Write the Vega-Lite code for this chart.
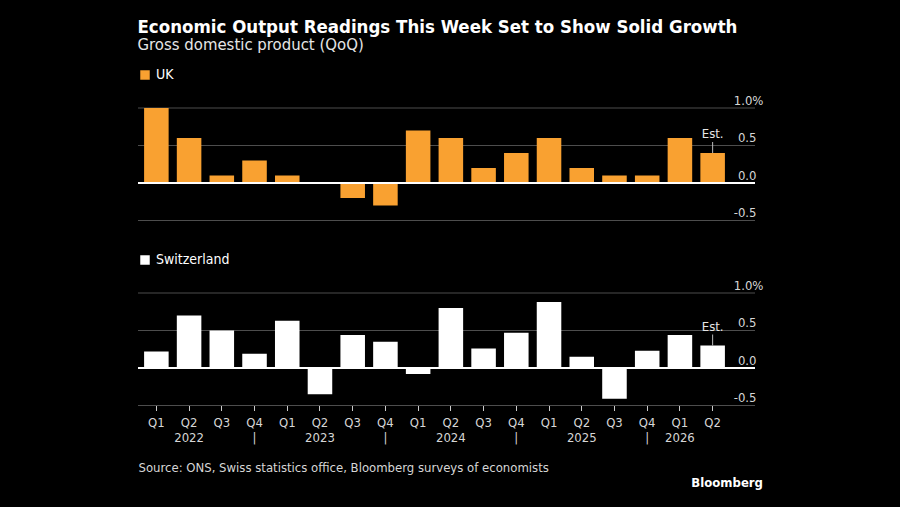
{
  "$schema": "https://vega.github.io/schema/vega-lite/v6.json",
  "background": "#000000",
  "padding": {"left": 137, "top": 17, "right": 138, "bottom": 24},
  "title": {
    "text": "Economic Output Readings This Week Set to Show Solid Growth",
    "subtitle": "Gross domestic product (QoQ)",
    "anchor": "start",
    "font": "DejaVu Sans Condensed",
    "fontSize": 18.5,
    "fontWeight": "bold",
    "color": "#ffffff",
    "subtitleFont": "DejaVu Sans Condensed",
    "subtitleFontSize": 16.6,
    "subtitleColor": "#e6e6e6",
    "subtitlePadding": 1,
    "offset": 14
  },
  "datasets": {
    "gdp": [
      {"country": "UK", "quarter": "2022Q1", "value": 1.0},
      {"country": "UK", "quarter": "2022Q2", "value": 0.6},
      {"country": "UK", "quarter": "2022Q3", "value": 0.1},
      {"country": "UK", "quarter": "2022Q4", "value": 0.3},
      {"country": "UK", "quarter": "2023Q1", "value": 0.1},
      {"country": "UK", "quarter": "2023Q2", "value": 0.0},
      {"country": "UK", "quarter": "2023Q3", "value": -0.2},
      {"country": "UK", "quarter": "2023Q4", "value": -0.3},
      {"country": "UK", "quarter": "2024Q1", "value": 0.7},
      {"country": "UK", "quarter": "2024Q2", "value": 0.6},
      {"country": "UK", "quarter": "2024Q3", "value": 0.2},
      {"country": "UK", "quarter": "2024Q4", "value": 0.4},
      {"country": "UK", "quarter": "2025Q1", "value": 0.6},
      {"country": "UK", "quarter": "2025Q2", "value": 0.2},
      {"country": "UK", "quarter": "2025Q3", "value": 0.1},
      {"country": "UK", "quarter": "2025Q4", "value": 0.1},
      {"country": "UK", "quarter": "2026Q1", "value": 0.6},
      {"country": "UK", "quarter": "2026Q2", "value": 0.4},
      {"country": "Switzerland", "quarter": "2022Q1", "value": 0.22},
      {"country": "Switzerland", "quarter": "2022Q2", "value": 0.7},
      {"country": "Switzerland", "quarter": "2022Q3", "value": 0.5},
      {"country": "Switzerland", "quarter": "2022Q4", "value": 0.19},
      {"country": "Switzerland", "quarter": "2023Q1", "value": 0.63},
      {"country": "Switzerland", "quarter": "2023Q2", "value": -0.35},
      {"country": "Switzerland", "quarter": "2023Q3", "value": 0.44},
      {"country": "Switzerland", "quarter": "2023Q4", "value": 0.35},
      {"country": "Switzerland", "quarter": "2024Q1", "value": -0.08},
      {"country": "Switzerland", "quarter": "2024Q2", "value": 0.8},
      {"country": "Switzerland", "quarter": "2024Q3", "value": 0.26},
      {"country": "Switzerland", "quarter": "2024Q4", "value": 0.47},
      {"country": "Switzerland", "quarter": "2025Q1", "value": 0.88},
      {"country": "Switzerland", "quarter": "2025Q2", "value": 0.15},
      {"country": "Switzerland", "quarter": "2025Q3", "value": -0.41},
      {"country": "Switzerland", "quarter": "2025Q4", "value": 0.23},
      {"country": "Switzerland", "quarter": "2026Q1", "value": 0.44},
      {"country": "Switzerland", "quarter": "2026Q2", "value": 0.3}
    ],
    "grid": [
      {"tick": -0.5},
      {"tick": 0.5},
      {"tick": 1.0}
    ]
  },
  "spacing": 32,
  "vconcat": [
    {
      "width": 617,
      "height": 112.5,
      "data": {"name": "gdp"},
      "transform": [{"filter": "datum.country === 'UK'"}],
      "layer": [
        {
          "data": {"name": "grid"},
          "transform": [],
          "mark": {"type": "rule", "color": "#4d4d4d", "strokeWidth": 1},
          "encoding": {"y": {"field": "tick", "type": "quantitative"}}
        },
        {
          "mark": {"type": "bar"},
          "encoding": {
            "x": {
              "field": "quarter",
              "type": "ordinal",
              "axis": null,
              "scale": {"range": [2, 591], "paddingInner": 0.25, "paddingOuter": 0.125}
            },
            "y": {
              "field": "value",
              "type": "quantitative",
              "scale": {"domain": [-0.5, 1.0], "nice": false, "zero": false},
              "axis": {
                "orient": "right",
                "title": null,
                "values": [-0.5, 0, 0.5, 1],
                "tickCount": 10,
                "labelExpr": "datum.value === 1 ? '1.0%' : replace(format(datum.value, '.1f'), '\u2212', '-')",
                "labelOverlap": false,
                "grid": false,
                "domain": false,
                "ticks": false,
                "tickSize": 0,
                "labelAlign": "right",
                "labelBaseline": "alphabetic",
                "labelOffset": -4,
                "labelPadding": {"condition": {"test": "datum.value === 1", "value": 8}, "value": 1},
                "labelColor": "#d6d6d6",
                "labelFontSize": 13
              }
            },
            "color": {
              "field": "country",
              "type": "nominal",
              "scale": {"domain": ["UK"], "range": ["#f9a131"]},
              "legend": {"title": null, "orient": "top", "offset": 26}
            }
          }
        },
        {
          "mark": {"type": "rule", "color": "#ffffff", "strokeWidth": 1},
          "encoding": {"y": {"datum": 0}}
        },
        {
          "transform": [{"filter": "datum.quarter === '2026Q2'"}],
          "mark": {"type": "rule", "color": "#bbbbbb", "strokeWidth": 1, "y2Offset": -11},
          "encoding": {
            "x": {"field": "quarter", "type": "ordinal"},
            "y": {"field": "value", "type": "quantitative"},
            "y2": {"field": "value"}
          }
        },
        {
          "transform": [{"filter": "datum.quarter === '2026Q2'"}],
          "mark": {"type": "text", "text": "Est.", "dy": -15, "baseline": "alphabetic", "color": "#e6e6e6", "fontSize": 13},
          "encoding": {
            "x": {"field": "quarter", "type": "ordinal"},
            "y": {"field": "value", "type": "quantitative"}
          }
        }
      ]
    },
    {
      "width": 617,
      "height": 112.5,
      "data": {"name": "gdp"},
      "transform": [{"filter": "datum.country === 'Switzerland'"}],
      "title": {
        "text": "Bloomberg",
        "orient": "bottom",
        "anchor": "end",
        "fontSize": 13,
        "fontWeight": "bold",
        "color": "#ffffff",
        "offset": 2
      },
      "layer": [
        {
          "data": {"name": "grid"},
          "transform": [],
          "mark": {"type": "rule", "color": "#4d4d4d", "strokeWidth": 1},
          "encoding": {"y": {"field": "tick", "type": "quantitative"}}
        },
        {
          "mark": {"type": "bar"},
          "encoding": {
            "x": {
              "field": "quarter",
              "type": "ordinal",
              "scale": {"range": [2, 591], "paddingInner": 0.25, "paddingOuter": 0.125},
              "axis": {
                "labelExpr": "substring(datum.value, 4) === 'Q2' && datum.value !== '2026Q2' ? ['Q2', substring(datum.value, 0, 4)] : datum.value === '2026Q1' ? ['Q1', '2026'] : substring(datum.value, 4) === 'Q4' ? ['Q4', '|'] : substring(datum.value, 4)",
                "labelAngle": 0,
                "labelOverlap": false,
                "labelLineHeight": 15,
                "labelPadding": 6,
                "labelColor": "#d6d6d6",
                "labelFontSize": 13,
                "ticks": true,
                "tickSize": 5,
                "tickColor": "#cccccc",
                "domain": false,
                "title": "Source: ONS, Swiss statistics office, Bloomberg surveys of economists",
                "titleAnchor": "start",
                "titleAlign": "left",
                "titleX": 0,
                "titlePadding": 17,
                "titleFontSize": 13,
                "titleFontWeight": "normal",
                "titleColor": "#d6d6d6"
              }
            },
            "y": {
              "field": "value",
              "type": "quantitative",
              "scale": {"domain": [-0.5, 1.0], "nice": false, "zero": false},
              "axis": {
                "orient": "right",
                "title": null,
                "values": [-0.5, 0, 0.5, 1],
                "tickCount": 10,
                "labelExpr": "datum.value === 1 ? '1.0%' : replace(format(datum.value, '.1f'), '\u2212', '-')",
                "labelOverlap": false,
                "grid": false,
                "domain": false,
                "ticks": false,
                "tickSize": 0,
                "labelAlign": "right",
                "labelBaseline": "alphabetic",
                "labelOffset": -4,
                "labelPadding": {"condition": {"test": "datum.value === 1", "value": 8}, "value": 1},
                "labelColor": "#d6d6d6",
                "labelFontSize": 13
              }
            },
            "color": {
              "field": "country",
              "type": "nominal",
              "scale": {"domain": ["Switzerland"], "range": ["#ffffff"]},
              "legend": {"title": null, "orient": "top", "offset": 26}
            }
          }
        },
        {
          "mark": {"type": "rule", "color": "#ffffff", "strokeWidth": 1},
          "encoding": {"y": {"datum": 0}}
        },
        {
          "transform": [{"filter": "datum.quarter === '2026Q2'"}],
          "mark": {"type": "rule", "color": "#bbbbbb", "strokeWidth": 1, "y2Offset": -11},
          "encoding": {
            "x": {"field": "quarter", "type": "ordinal"},
            "y": {"field": "value", "type": "quantitative"},
            "y2": {"field": "value"}
          }
        },
        {
          "transform": [{"filter": "datum.quarter === '2026Q2'"}],
          "mark": {"type": "text", "text": "Est.", "dy": -15, "baseline": "alphabetic", "color": "#e6e6e6", "fontSize": 13},
          "encoding": {
            "x": {"field": "quarter", "type": "ordinal"},
            "y": {"field": "value", "type": "quantitative"}
          }
        }
      ]
    }
  ],
  "resolve": {"scale": {"color": "independent"}},
  "config": {
    "font": "DejaVu Sans Condensed",
    "view": {"stroke": null},
    "axis": {"labelFont": "DejaVu Sans Condensed", "titleFont": "DejaVu Sans Condensed"},
    "legend": {
      "symbolType": "square",
      "symbolSize": 90,
      "symbolOpacity": 1,
      "symbolStrokeWidth": 0,
      "labelFont": "DejaVu Sans Condensed",
      "labelFontSize": 14,
      "labelColor": "#ffffff",
      "padding": 0
    },
    "title": {"font": "DejaVu Sans Condensed"}
  }
}
